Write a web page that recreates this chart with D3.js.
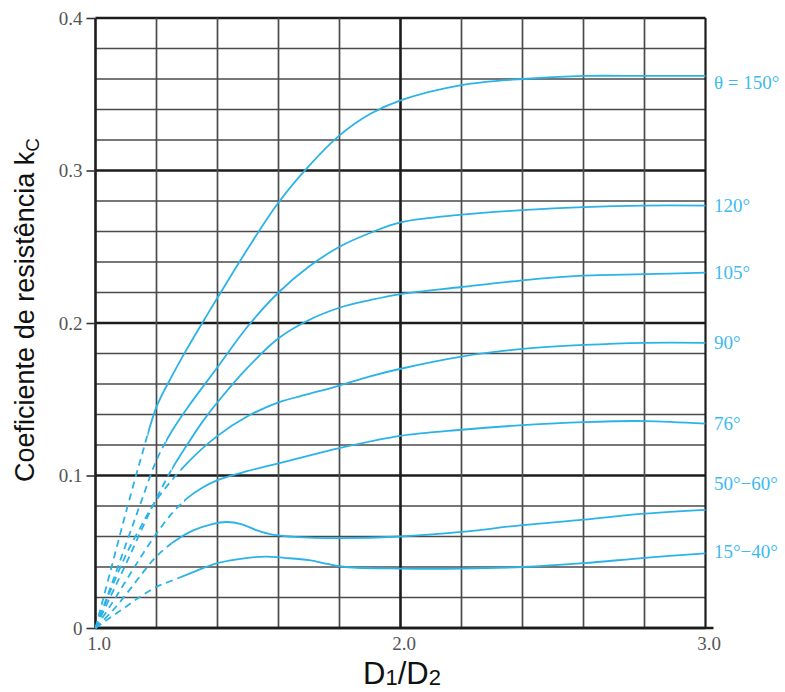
<!DOCTYPE html>
<html>
<head>
<meta charset="utf-8">
<script src="https://cdn.jsdelivr.net/npm/d3@7"></script>
<style>
  body { margin: 0; background: #fff; }
</style>
</head>
<body>
<script>
var width = 785, height = 692;

// curve labels (right side)
var angles = ["\u03b8 = 150\u00b0", "120\u00b0", "105\u00b0", "90\u00b0", "76\u00b0", "50\u00b0\u221260\u00b0", "15\u00b0\u221240\u00b0"];

// [D1/D2, kC]
var k150 = [[1.0,0],[1.05,0.038],[1.1,0.076],[1.15,0.112],[1.2,0.145],[1.25,0.165],[1.3,0.183],[1.35,0.200],
            [1.4,0.2165],[1.5,0.249],[1.6,0.279],[1.7,0.303],[1.8,0.323],[1.9,0.337],[2.0,0.346],[2.2,0.356],
            [2.4,0.360],[2.6,0.362],[2.8,0.362],[3.0,0.362]];
var k120 = [[1.0,0],[1.05,0.027],[1.1,0.055],[1.15,0.083],[1.2,0.110],[1.25,0.129],[1.3,0.144],[1.4,0.171],
            [1.5,0.198],[1.6,0.220],[1.7,0.237],[1.8,0.250],[1.9,0.259],[2.0,0.266],[2.2,0.271],[2.4,0.274],
            [2.6,0.276],[2.8,0.277],[3.0,0.277]];
var k105 = [[1.0,0],[1.05,0.021],[1.1,0.042],[1.15,0.064],[1.2,0.085],[1.25,0.104],[1.3,0.120],[1.35,0.135],
            [1.4,0.148],[1.5,0.171],[1.6,0.190],[1.7,0.202],[1.8,0.210],[1.9,0.215],[2.0,0.219],[2.2,0.2236],
            [2.4,0.228],[2.6,0.231],[2.8,0.232],[3.0,0.233]];
var k90 = [[1.0,0],[1.05,0.025],[1.1,0.048],[1.15,0.067],[1.2,0.084],[1.3,0.108],[1.4,0.126],[1.5,0.139],
           [1.6,0.148],[1.7,0.1535],[1.8,0.159],[1.9,0.165],[2.0,0.170],[2.2,0.178],[2.4,0.183],
           [2.6,0.1856],[2.8,0.187],[3.0,0.187]];
var k76 = [[1.0,0],[1.05,0.015],[1.1,0.031],[1.15,0.047],[1.2,0.062],[1.25,0.075],[1.3,0.085],[1.35,0.092],
           [1.4,0.097],[1.5,0.103],[1.6,0.108],[1.8,0.118],[2.0,0.126],[2.2,0.130],[2.4,0.133],[2.6,0.135],
           [2.8,0.1357],[3.0,0.134]];
var k50_60 = [[1.0,0],[1.05,0.010],[1.1,0.022],[1.15,0.035],[1.2,0.047],[1.26,0.057],[1.32,0.064],[1.38,0.068],
              [1.43,0.0695],[1.48,0.068],[1.53,0.064],[1.58,0.0612],[1.65,0.0598],[1.8,0.059],[2.0,0.060],
              [2.2,0.063],[2.4,0.0675],[2.6,0.071],[2.8,0.075],[3.0,0.0775]];
var k15_40 = [[1.0,0],[1.05,0.007],[1.1,0.014],[1.15,0.021],[1.2,0.027],[1.25,0.031],[1.3,0.035],[1.4,0.0425],
              [1.5,0.046],[1.56,0.0468],[1.62,0.046],[1.7,0.0445],[1.76,0.042],[1.82,0.040],[2.0,0.039],
              [2.2,0.039],[2.4,0.040],[2.6,0.0425],[2.8,0.046],[3.0,0.049]];

var series = [k150, k120, k105, k90, k76, k50_60, k15_40];
var dashUntil = [1.17, 1.23, 1.25, 1.28, 1.29, 1.25, 1.27];   // dashed part near the origin
var labelAt = [0.358, 0.277, 0.233, 0.187, 0.134, 0.095, 0.050];

var xTickLabels = [1.0, 2.0, 3.0];
var yTickLabels = [0, 0.1, 0.2, 0.3, 0.4];

var x = d3.scaleLinear().domain([1, 3]).range([95.5, 705.5]);
var y = d3.scaleLinear().domain([0, 0.4]).range([628, 18]);

var blue = "#2bb3e8";

var svg = d3.select("body")
            .append("svg")
            .attr("width", width)
            .attr("height", height);

// grid
var gx = d3.range(0, 11).map(function(i) { return 1 + i * 0.2; });
var gy = d3.range(0, 21).map(function(i) { return i * 0.02; });

svg.append("g").selectAll("line")
    .data(gy)
    .enter().append("line")
    .attr("x1", x(1)).attr("x2", x(3))
    .attr("y1", function(d) { return y(d); })
    .attr("y2", function(d) { return y(d); })
    .attr("stroke", function(i, j) { return j % 5 == 0 ? "#1c1c1c" : "#4a4a4a"; })
    .attr("stroke-width", function(i, j) { return j % 5 == 0 ? 2.6 : 1.7; });

svg.append("g").selectAll("line")
    .data(gx)
    .enter().append("line")
    .attr("y1", y(0)).attr("y2", y(0.4))
    .attr("x1", function(d) { return x(d); })
    .attr("x2", function(d) { return x(d); })
    .attr("stroke", function(d, j) { return (j == 0 || j == 5 || j == 10) ? "#1c1c1c" : "#4a4a4a"; })
    .attr("stroke-width", function(d, j) { return (j == 0 || j == 5) ? 2.6 : (j == 10 ? 2.2 : 1.7); });

// bottom axis runs a bit past 3.0
svg.append("line")
    .attr("x1", x(1)).attr("x2", x(3) + 8)
    .attr("y1", y(0)).attr("y2", y(0))
    .attr("stroke", "#1c1c1c").attr("stroke-width", 2.6);

// y axis ticks
var yAxis = svg.append("g")
    .attr("transform", "translate(" + x(1) + ",0)")
    .call(d3.axisLeft(y).tickValues(yTickLabels)
            .tickSize(9).tickPadding(4)
            .tickFormat(function(d) { return d == 0 ? "0" : d3.format(".1f")(d); }));
yAxis.select(".domain").remove();
yAxis.selectAll("line").attr("stroke", "#333").attr("stroke-width", 1.6);
yAxis.selectAll("text")
    .attr("font-family", "Liberation Serif, Times New Roman, serif")
    .attr("font-size", "19px")
    .attr("fill", "#555");

// x axis labels
var xAxis = svg.append("g")
    .attr("transform", "translate(0," + y(0) + ")")
    .call(d3.axisBottom(x).tickValues(xTickLabels).tickSize(0).tickPadding(9)
            .tickFormat(d3.format(".1f")));
xAxis.select(".domain").remove();
xAxis.selectAll("text")
    .attr("font-family", "Liberation Serif, Times New Roman, serif")
    .attr("font-size", "19px")
    .attr("fill", "#555")
    .attr("dx", "3px");

// curves
var line = d3.line()
    .x(function(d) { return x(d[0]); })
    .y(function(d) { return y(d[1]); })
    .curve(d3.curveCatmullRom.alpha(0.5));

var defs = svg.append("defs");

series.forEach(function(s, i) {
  defs.append("clipPath").attr("id", "dash" + i)
      .append("rect")
      .attr("x", x(1) - 10).attr("y", 0)
      .attr("width", x(dashUntil[i]) - x(1) + 10).attr("height", height);
  defs.append("clipPath").attr("id", "solid" + i)
      .append("rect")
      .attr("x", x(dashUntil[i])).attr("y", 0)
      .attr("width", width).attr("height", height);

  svg.append("path")
      .datum(s)
      .attr("d", line)
      .attr("fill", "none")
      .attr("stroke", blue)
      .attr("stroke-width", 1.8)
      .attr("stroke-dasharray", "7,5")
      .attr("clip-path", "url(#dash" + i + ")");

  svg.append("path")
      .datum(s)
      .attr("d", line)
      .attr("fill", "none")
      .attr("stroke", blue)
      .attr("stroke-width", 1.8)
      .attr("clip-path", "url(#solid" + i + ")");

  svg.append("text")
      .attr("x", 714)
      .attr("y", y(labelAt[i]))
      .attr("dy", "0.35em")
      .attr("font-family", "Liberation Serif, Times New Roman, serif")
      .attr("font-size", "19px")
      .attr("fill", "#3dbaf0")
      .text(angles[i]);
});

// axis titles
var yt = svg.append("text")
    .attr("transform", "translate(34," + 310 + ") rotate(-90)")
    .attr("text-anchor", "middle")
    .attr("font-family", "Liberation Sans, Arial, sans-serif")
    .attr("font-size", "27px")
    .attr("fill", "#111");
yt.append("tspan").text("Coeficiente de resist\u00eancia k");
yt.append("tspan").attr("font-size", "19px").attr("dy", "5").text("C");

var xt = svg.append("text")
    .attr("x", 402)
    .attr("y", 684)
    .attr("text-anchor", "middle")
    .attr("font-family", "Liberation Sans, Arial, sans-serif")
    .attr("font-size", "31px")
    .attr("fill", "#111");
xt.append("tspan").text("D");
xt.append("tspan").attr("font-size", "22px").attr("dy", "1").text("1");
xt.append("tspan").attr("dy", "-1").text("/D");
xt.append("tspan").attr("font-size", "22px").attr("dy", "1").text("2");
</script>
</body>
</html>
